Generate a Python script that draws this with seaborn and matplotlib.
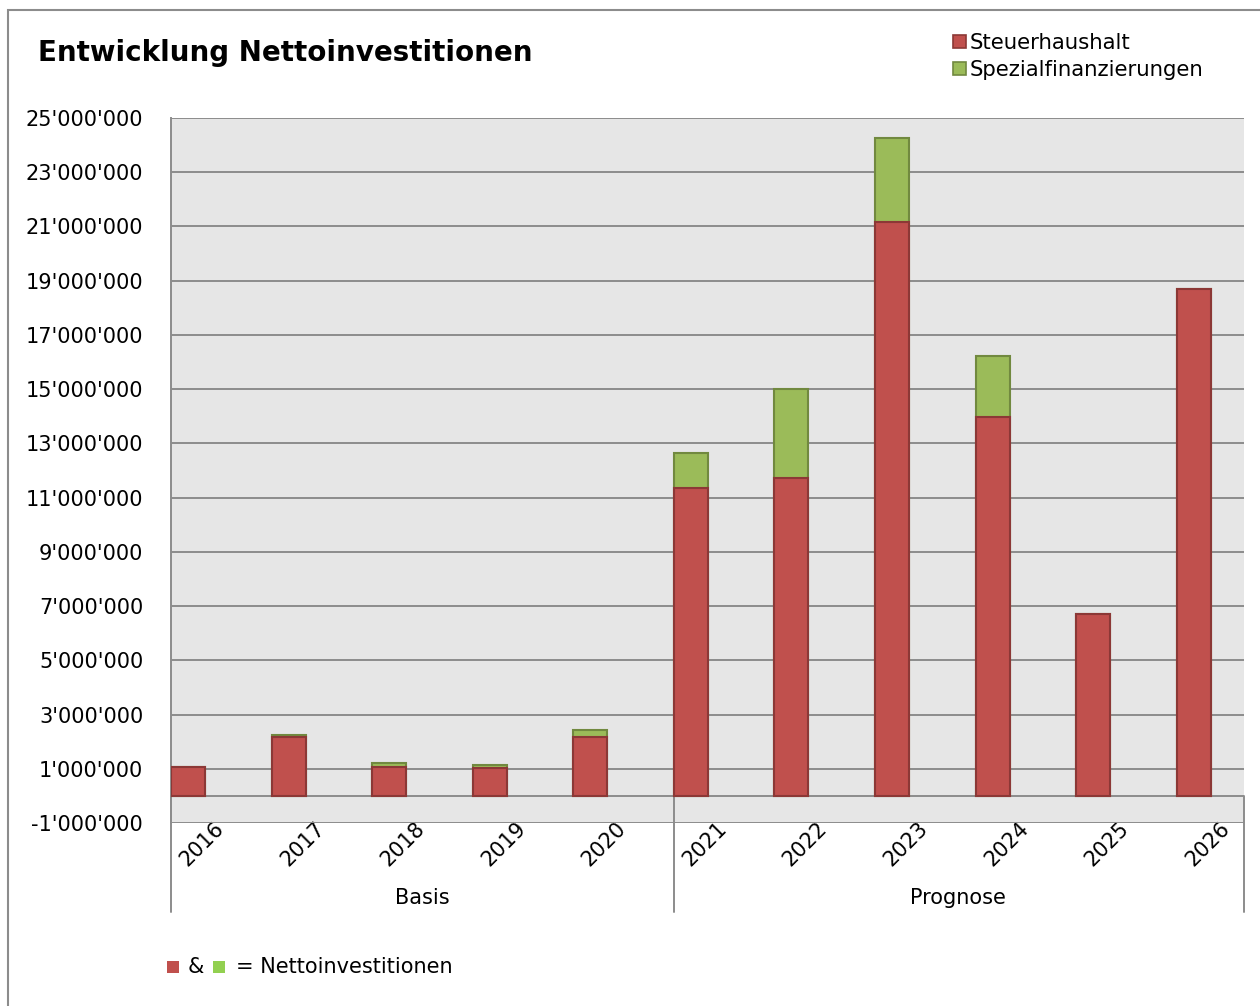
import matplotlib
matplotlib.use("Agg")
import matplotlib.pyplot as plt
import matplotlib.transforms as mtransforms
from matplotlib.patches import Patch, Rectangle
import seaborn as sns
import pandas as pd

# ---- data ----
years = ["2016", "2017", "2018", "2019", "2020", "2021", "2022", "2023", "2024", "2025", "2026"]
steuerhaushalt = [1070000, 2180000, 1070000, 1030000, 2180000, 11370000, 11730000, 21180000, 13990000, 6720000, 18710000]
spezialfinanzierungen = [0, 50000, 140000, 110000, 260000, 1290000, 3290000, 3100000, 2250000, 0, 0]
groups = ["Basis", "Prognose"]
yticks = list(range(-1000000, 25000001, 2000000))

RED = "#C0504D"
RED_EDGE = "#8C3836"
GREEN = "#9BBB59"
GREEN_EDGE = "#71893F"
GREEN_LIGHT = "#92D050"
GRID = "#8C8C8C"
BG = "#E6E6E6"

sns.set_theme(style="white")
plt.rcParams["font.family"] = ["DejaVu Sans"]
plt.rcParams["text.color"] = "black"

df = pd.DataFrame({"year": years, "steuer": steuerhaushalt, "spezial": spezialfinanzierungen})
df["total"] = df["steuer"] + df["spezial"]

fig = plt.figure(figsize=(12.6, 10.06), dpi=100)
ax = fig.add_axes([171 / 1260, 1 - 823 / 1006, (1244 - 171) / 1260, (823 - 118) / 1006])
ax.set_facecolor(BG)

sns.barplot(data=df, x="year", y="total", color=GREEN, saturation=1, width=0.338,
            edgecolor=GREEN_EDGE, linewidth=1.5, ax=ax, zorder=3)
sns.barplot(data=df, x="year", y="steuer", color=RED, saturation=1, width=0.338,
            edgecolor=RED_EDGE, linewidth=1.5, ax=ax, zorder=4)

ax.set_xlim(-0.169, 10.5)
ax.set_ylim(-1000000, 25000000)
ax.set_yticks(yticks)
ax.set_yticklabels([f"{v:,}".replace(",", "'") for v in yticks], fontsize=15, color="black")
ax.yaxis.grid(True, color=GRID, linewidth=1.4, zorder=0)
ax.set_axisbelow(True)
ax.axhline(0, color=GRID, linewidth=1.4, zorder=2)
ax.tick_params(axis="y", length=0, pad=20)
ax.tick_params(axis="x", length=0, pad=14)
ax.set_xlabel("")
ax.set_ylabel("")

for lbl in ax.get_xticklabels():
    lbl.set_rotation(45)
    lbl.set_fontsize(15)
    lbl.set_ha("center")
    lbl.set_va("center")
    lbl.set_color("black")
    lbl.set_transform(lbl.get_transform() + mtransforms.ScaledTranslation(0.14, -0.02, fig.dpi_scale_trans))

for side in ["top", "right", "bottom"]:
    ax.spines[side].set_visible(False)
ax.spines["left"].set_color(GRID)
ax.spines["left"].set_linewidth(1.4)

# group separators and labels
tr = ax.get_xaxis_transform()
y_top = (823 - 796) / 705
y_bot = -(912 - 823) / 705
for xs in [-0.169, 4.831, 10.5]:
    ax.plot([xs, xs], [y_top, y_bot], color=GRID, linewidth=1.4, transform=tr, clip_on=False)
ax.text(2.33, -(898 - 823) / 705, groups[0], transform=tr, ha="center", va="center", fontsize=15, color="black")
ax.text(7.66, -(898 - 823) / 705, groups[1], transform=tr, ha="center", va="center", fontsize=15, color="black")

# title
fig.text(38 / 1260, 1 - 53 / 1006, "Entwicklung Nettoinvestitionen", fontsize=20,
         fontweight="bold", ha="left", va="center", color="black")

# legend
handles = [Patch(facecolor=RED, edgecolor=RED_EDGE, linewidth=1.2),
           Patch(facecolor=GREEN, edgecolor=GREEN_EDGE, linewidth=1.2)]
leg = fig.legend(handles, ["Steuerhaushalt", "Spezialfinanzierungen"], loc="upper left",
                 bbox_to_anchor=(953 / 1260, 1 - 33 / 1006), frameon=False, fontsize=15.3,
                 handlelength=0.6, handleheight=0.6, handletextpad=0.2, labelspacing=0.32,
                 borderpad=0, borderaxespad=0)
for t in leg.get_texts():
    t.set_color("black")

# bottom note
fig.patches.append(Rectangle((167 / 1260, 1 - 973 / 1006), 12 / 1260, 12 / 1006,
                             transform=fig.transFigure, facecolor=RED, edgecolor="none"))
fig.patches.append(Rectangle((213 / 1260, 1 - 973 / 1006), 12 / 1260, 12 / 1006,
                             transform=fig.transFigure, facecolor=GREEN_LIGHT, edgecolor="none"))
fig.text(188 / 1260, 1 - 967 / 1006, "&", fontsize=15, ha="left", va="center", color="black")
fig.text(236 / 1260, 1 - 967 / 1006, "= Nettoinvestitionen", fontsize=15, ha="left", va="center", color="black")

# figure border
fig.patches.append(Rectangle((8 / 1260, -0.05), 1.2, 1.05 - 10 / 1006, transform=fig.transFigure,
                             fill=False, edgecolor=GRID, linewidth=1.5))

fig.savefig("out.png", dpi=100)
